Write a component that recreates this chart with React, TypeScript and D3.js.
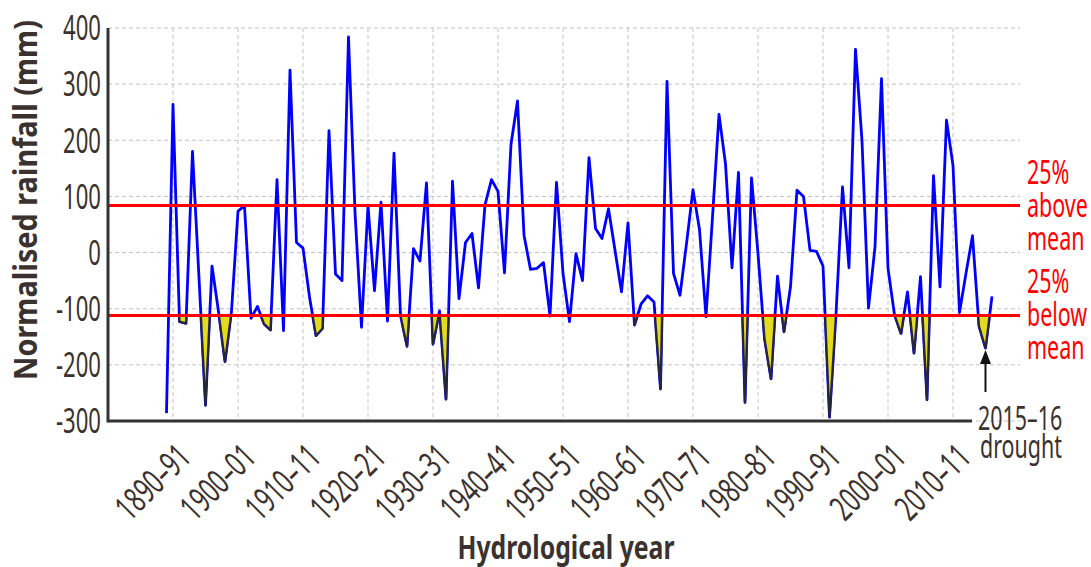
import React from "react";
import * as d3 from "d3";

// normalised rainfall (mm), one value per hydrological year starting 1889-90
const firstYear = 1889;
const rainfall = [
  -286, 264, -123, -126, 180, -45, -272, -24, -105, -194,
  -105, 74, 83, -117, -96, -127, -138, 130, -139, 325,
  18, 8, -79, -148, -135, 217, -38, -50, 384, 72,
  -133, 83, -68, 90, -122, 177, -112, -167, 7, -15,
  124, -163, -104, -261, 127, -82, 18, 34, -63, 85,
  130, 109, -36, 193, 270, 31, -30, -28, -18, -113,
  125, -37, -123, -2, -50, 169, 43, 25, 78, 4,
  -70, 53, -129, -92, -77, -88, -243, 305, -37, -76,
  16, 112, 41, -114, 63, 246, 158, -27, 143, -267,
  133, -2, -153, -225, -42, -141, -61, 111, 100, 4,
  2, -24, -293, -110, 117, -27, 362, 199, -99, 10,
  310, -28, -111, -144, -70, -179, -43, -262, 137, -61,
  236, 155, -107, -37, 30, -131, -170, -78,
];
const years = rainfall.map((_, i) => firstYear + i);

// years shaded as drought (below the 25% line)
const droughtYears = [
  1891, 1892, 1895, 1898, 1904, 1905, 1912, 1913, 1926, 1930, 1932,
  1961, 1965, 1978, 1981, 1982, 1984, 1991, 2002, 2004, 2006, 2014, 2015,
];

const yTicks = [400, 300, 200, 100, 0, -100, -200, -300];
const decadeTicks = [1890, 1900, 1910, 1920, 1930, 1940, 1950, 1960, 1970, 1980, 1990, 2000, 2010];
const tickLabel = (y: number) => `${y}–${String((y + 1) % 100).padStart(2, "0")}`;

const aboveMean = 84;
const belowMean = -112;
const droughtYear = 2015;

const FONT = "'Noto Sans', 'Open Sans', sans-serif";
const TEXT = "#3b3230";
const SX = 0.65; // squeeze to mimic a condensed face

const width = 1091;
const height = 567;
const left = 108;
const top = 28;
const bottom = 421;
const gridRight = 1020;

const x = d3.scaleLinear().domain([1880, 2020]).range([left, 1018]);
const y = d3.scaleLinear().domain([-300, 400]).range([bottom, top]);

const data = years.map((yr, i) => ({ year: yr, value: rainfall[i] }));

const line = d3
  .line<{ year: number; value: number }>()
  .x((d) => x(d.year))
  .y((d) => y(d.value));

const area = d3
  .area<{ year: number; value: number }>()
  .x((d) => x(d.year))
  .y0(y(belowMean))
  .y1((d) => y(d.value));

type CTextProps = {
  x: number;
  y: number;
  rotate?: number;
  size: number;
  anchor?: string;
  fill?: string;
  dy?: string;
  children: React.ReactNode;
};

// condensed-looking text: translate, rotate, then squeeze along the baseline
const CText = ({ x, y, rotate = 0, size, anchor = "start", fill = TEXT, dy, children }: CTextProps) => (
  <text
    transform={`translate(${x},${y}) rotate(${rotate}) scale(${SX},1)`}
    textAnchor={anchor}
    fontFamily={FONT}
    fontSize={size}
    fill={fill}
    dy={dy}
  >
    {children}
  </text>
);

const App = () => {
  const ax = x(droughtYear);
  const tip = y(rainfall[droughtYear - firstYear]) + 2;

  return (
    <div style={{ position: "absolute", left: 0, top: 0 }}>
      <svg width={width} height={height} style={{ display: "block", background: "#fff" }}>
        <defs>
          <clipPath id="droughtClip">
            {droughtYears.map((yr) => (
              <rect
                key={yr}
                x={x(yr - 1)}
                y={y(belowMean)}
                width={x(yr + 1) - x(yr - 1)}
                height={bottom - y(belowMean)}
              />
            ))}
          </clipPath>
        </defs>

        {/* grid */}
        <g stroke="#c2c2c2" strokeWidth={1} strokeDasharray="4,3">
          {yTicks.map((t) => (
            <line key={t} x1={left} x2={gridRight} y1={y(t)} y2={y(t)} />
          ))}
          {decadeTicks.map((t) => (
            <line key={t} x1={x(t)} x2={x(t)} y1={top} y2={bottom} />
          ))}
        </g>

        {/* rainfall */}
        <path d={line(data) ?? ""} fill="none" stroke="#0000ff" strokeWidth={2.8} strokeLinejoin="round" />
        <path
          d={area(data) ?? ""}
          fill="#e4da1f"
          stroke="#26263a"
          strokeWidth={2.2}
          strokeLinejoin="round"
          clipPath="url(#droughtClip)"
        />

        {/* 25% lines */}
        {[aboveMean, belowMean].map((v) => (
          <line key={v} x1={left} x2={gridRight} y1={y(v)} y2={y(v)} stroke="#ff0000" strokeWidth={3} />
        ))}

        {/* axes */}
        <line x1={left} x2={left} y1={top} y2={bottom + 1.5} stroke="#333" strokeWidth={3} />
        <line x1={left} x2={972} y1={bottom} y2={bottom} stroke="#333" strokeWidth={3} />

        {yTicks.map((t) => (
          <CText key={t} x={101} y={y(t)} dy="0.36em" anchor="end" size={34}>
            {t < 0 ? `-${Math.abs(t)}` : t}
          </CText>
        ))}

        {decadeTicks.map((t) => (
          <CText key={t} x={x(t) + 20} y={bottom + 38} rotate={-45} anchor="end" size={35}>
            {tickLabel(t)}
          </CText>
        ))}

        <text
          transform={`translate(37,200) rotate(-90)`}
          textAnchor="middle"
          fontFamily={FONT}
          fontWeight="bold"
          fontSize={33}
          fill={TEXT}
          textLength={360}
          lengthAdjust="spacingAndGlyphs"
        >
          Normalised rainfall (mm)
        </text>
        <text
          x={566}
          y={559}
          textAnchor="middle"
          fontFamily={FONT}
          fontWeight="bold"
          fontSize={33}
          fill={TEXT}
          textLength={217}
          lengthAdjust="spacingAndGlyphs"
        >
          Hydrological year
        </text>

        {/* labels on the right */}
        <CText x={1027} y={184} size={33} fill="#ff0000">25%</CText>
        <CText x={1027} y={217} size={33} fill="#ff0000">above</CText>
        <CText x={1027} y={250} size={33} fill="#ff0000">mean</CText>
        <CText x={1027} y={293} size={33} fill="#ff0000">25%</CText>
        <CText x={1027} y={326} size={33} fill="#ff0000">below</CText>
        <CText x={1027} y={359} size={33} fill="#ff0000">mean</CText>

        {/* drought arrow */}
        <line x1={ax} x2={ax} y1={tip + 12} y2={392} stroke="#111" strokeWidth={2} />
        <path d={`M${ax},${tip}L${ax - 5.5},${tip + 14}L${ax + 5.5},${tip + 14}Z`} fill="#111" />
        <CText x={978} y={430} size={33}>2015–16</CText>
        <CText x={980} y={458} size={33}>drought</CText>
      </svg>
    </div>
  );
};

export default App;
